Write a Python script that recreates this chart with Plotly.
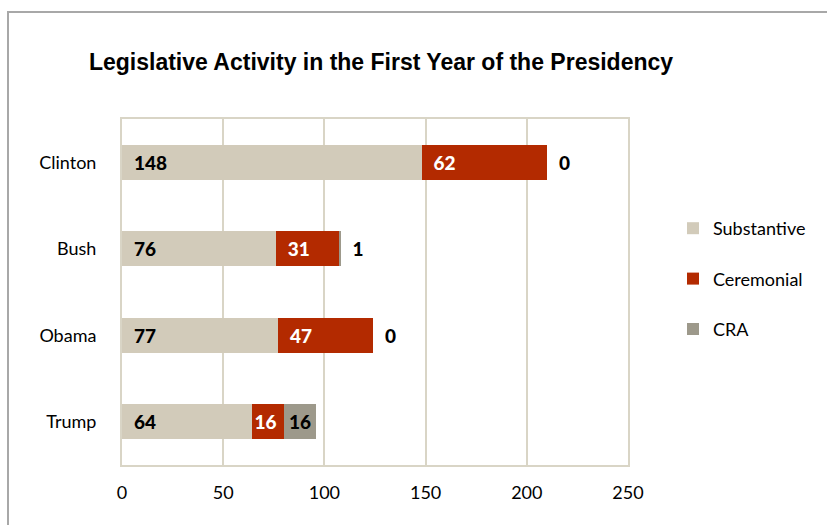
import plotly.graph_objects as go

presidents = ["Clinton", "Bush", "Obama", "Trump"]
substantive = [148, 76, 77, 64]
ceremonial = [62, 31, 47, 16]
cra = [0, 1, 0, 16]

x_ticks = [0, 50, 100, 150, 200, 250]

W, H = 827, 525
L, R, T, B = 122, 199, 119, 60
pw, ph = W - L - R, H - T - B

def px_x(p):
    return (p - L) / pw

def px_y(p):
    return (H - B - p) / ph

label_font = dict(family="Lato, sans-serif", size=19, weight=900)
pad = "\u00a0\u00a0"

def padded(v):
    # wide segments get a little breathing room before the number
    return pad + str(v) if v >= 25 else str(v)

fig = go.Figure()
fig.add_bar(
    y=presidents, x=substantive, orientation="h", name="Substantive",
    legendgroup="s",
    marker=dict(color="#D2CBBA", line=dict(width=0)),
    text=[padded(v) for v in substantive], textposition="inside",
    insidetextanchor="start", textfont=dict(color="black", **label_font),
    textangle=0, constraintext="none", cliponaxis=False,
)
fig.add_bar(
    y=presidents, x=ceremonial, orientation="h", name="Ceremonial",
    legendgroup="c",
    marker=dict(color="#B32A00", line=dict(width=0)),
    text=[padded(v) for v in ceremonial], textposition="inside",
    insidetextanchor="start", textfont=dict(color="white", **label_font),
    textangle=0, constraintext="none", cliponaxis=False,
)
fig.add_bar(
    y=presidents, x=cra, orientation="h", name="CRA",
    legendgroup="r",
    marker=dict(color="#9D998B", line=dict(width=0)),
    text=[str(v) if v >= 10 else pad + str(v) for v in cra],
    textposition=["inside" if v >= 10 else "outside" for v in cra],
    insidetextanchor="middle", textfont=dict(color="black", **label_font),
    textangle=0, constraintext="none", cliponaxis=False,
)

fig.update_layout(
    width=W, height=H,
    barmode="stack", bargap=0.6,
    margin=dict(l=L, r=R, t=T, b=B),
    paper_bgcolor="white", plot_bgcolor="white",
    font=dict(family="Lato, sans-serif", size=17, color="black"),
    title=dict(
        text="<b>Legislative Activity in the First Year of the Presidency</b>",
        font=dict(family="Liberation Sans Narrow, Arial Narrow, sans-serif", size=23, color="black"),
        xref="container", x=381 / W, xanchor="center",
        yref="container", y=1 - 62 / H, yanchor="middle",
    ),
    xaxis=dict(
        range=[0, 250], tickvals=x_ticks, ticktext=[str(v) for v in x_ticks],
        showgrid=True, gridcolor="#D9D5C6", gridwidth=2,
        showline=True, linecolor="#D9D5C6", linewidth=2, mirror=True,
        zeroline=False, ticks="", tickfont=dict(size=18), ticklabelstandoff=10,
    ),
    yaxis=dict(
        categoryorder="array", categoryarray=presidents, autorange="reversed",
        showline=True, linecolor="#D9D5C6", linewidth=2, mirror=True,
        showgrid=False, ticks="", tickfont=dict(size=18), ticklabelstandoff=20,
    ),
    legend=dict(
        x=px_x(673), y=px_y(210), xanchor="left", yanchor="top",
        font=dict(size=18), itemwidth=30, tracegroupgap=24,
        traceorder="grouped", bgcolor="rgba(0,0,0,0)",
    ),
    shapes=[dict(
        type="rect", xref="paper", yref="paper",
        x0=px_x(8), x1=px_x(W + 20), y0=px_y(H + 20), y1=px_y(12),
        line=dict(color="#A8A8A8", width=2), fillcolor="rgba(0,0,0,0)", layer="below",
    )],
)

fig.write_html("out.html")
